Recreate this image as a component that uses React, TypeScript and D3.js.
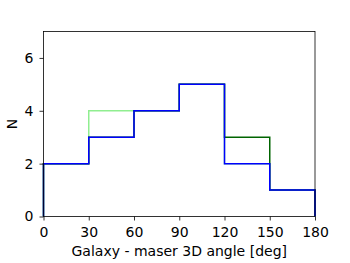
import { useEffect, useRef } from 'react';
import * as d3 from 'd3';

const binEdges = [0, 30, 60, 90, 120, 150, 180];
const countsAll = [2, 4, 4, 5, 2, 1];
const countsMid = [2, 3, 4, 5, 3, 1];
const countsSub = [2, 3, 4, 5, 2, 1];
const xTicks = [0, 30, 60, 90, 120, 150, 180];
const yTicks = [0, 2, 4, 6];

const series = [
  { name: 'all', counts: countsAll, color: '#90ee90' },
  { name: 'mid', counts: countsMid, color: '#006400' },
  { name: 'sub', counts: countsSub, color: '#0000ff' },
];

export default function App() {
  const svgRef = useRef<SVGSVGElement>(null);

  useEffect(() => {
    if (!svgRef.current) return;
    d3.select(svgRef.current).selectAll('*').remove();

    const width = 350;
    const height = 263;
    const margin = { top: 31.5, right: 35, bottom: 46.5, left: 43.5 };

    const svg = d3
      .select(svgRef.current)
      .attr('width', width)
      .attr('height', height);

    const x = d3
      .scaleLinear()
      .domain([0, 180])
      .range([margin.left, width - margin.right]);
    const y = d3
      .scaleLinear()
      .domain([0, 7])
      .range([height - margin.bottom, margin.top]);

    // step outline like matplotlib histtype='step'
    const stepPoints = (counts: number[]) => {
      const pts: [number, number][] = [[binEdges[0], 0]];
      counts.forEach((c, i) => {
        pts.push([binEdges[i], c]);
        pts.push([binEdges[i + 1], c]);
      });
      pts.push([binEdges[binEdges.length - 1], 0]);
      return pts;
    };

    const line = d3
      .line<[number, number]>()
      .x((d) => x(d[0]))
      .y((d) => y(d[1]));

    series.forEach((s) => {
      svg
        .append('path')
        .attr('d', line(stepPoints(s.counts)))
        .attr('fill', 'none')
        .attr('stroke', s.color)
        .attr('stroke-width', 1.5)
        .attr('stroke-linejoin', 'miter');
    });

    // frame
    svg
      .append('rect')
      .attr('x', margin.left)
      .attr('y', margin.top)
      .attr('width', width - margin.right - margin.left)
      .attr('height', height - margin.bottom - margin.top)
      .attr('fill', 'none')
      .attr('stroke', 'black')
      .attr('stroke-width', 0.8);

    const font = 'DejaVu Sans, sans-serif';

    const xAxis = svg
      .append('g')
      .attr('transform', `translate(0,${height - margin.bottom})`)
      .call(d3.axisBottom(x).tickValues(xTicks).tickSize(4).tickPadding(6.5).tickFormat(d3.format('d')));
    const yAxis = svg
      .append('g')
      .attr('transform', `translate(${margin.left},0)`)
      .call(d3.axisLeft(y).tickValues(yTicks).tickSize(4).tickPadding(6).tickFormat(d3.format('d')));

    [xAxis, yAxis].forEach((g) => {
      g.select('.domain').remove();
      g.selectAll('line').attr('stroke', 'black').attr('stroke-width', 0.8);
      g.selectAll('text')
        .attr('fill', 'black')
        .attr('font-family', font)
        .attr('font-size', 14);
    });

    svg
      .append('text')
      .attr('x', (margin.left + width - margin.right) / 2)
      .attr('y', 256)
      .attr('text-anchor', 'middle')
      .attr('font-family', font)
      .attr('font-size', 14)
      .text('Galaxy - maser 3D angle [deg]');

    svg
      .append('text')
      .attr('transform', `translate(16.5,${y(3.5)}) rotate(-90)`)
      .attr('text-anchor', 'middle')
      .attr('font-family', font)
      .attr('font-size', 14)
      .text('N');
  }, []);

  return (
    <div style={{ position: 'absolute', left: 0, top: 0 }}>
      <svg ref={svgRef}></svg>
    </div>
  );
}
